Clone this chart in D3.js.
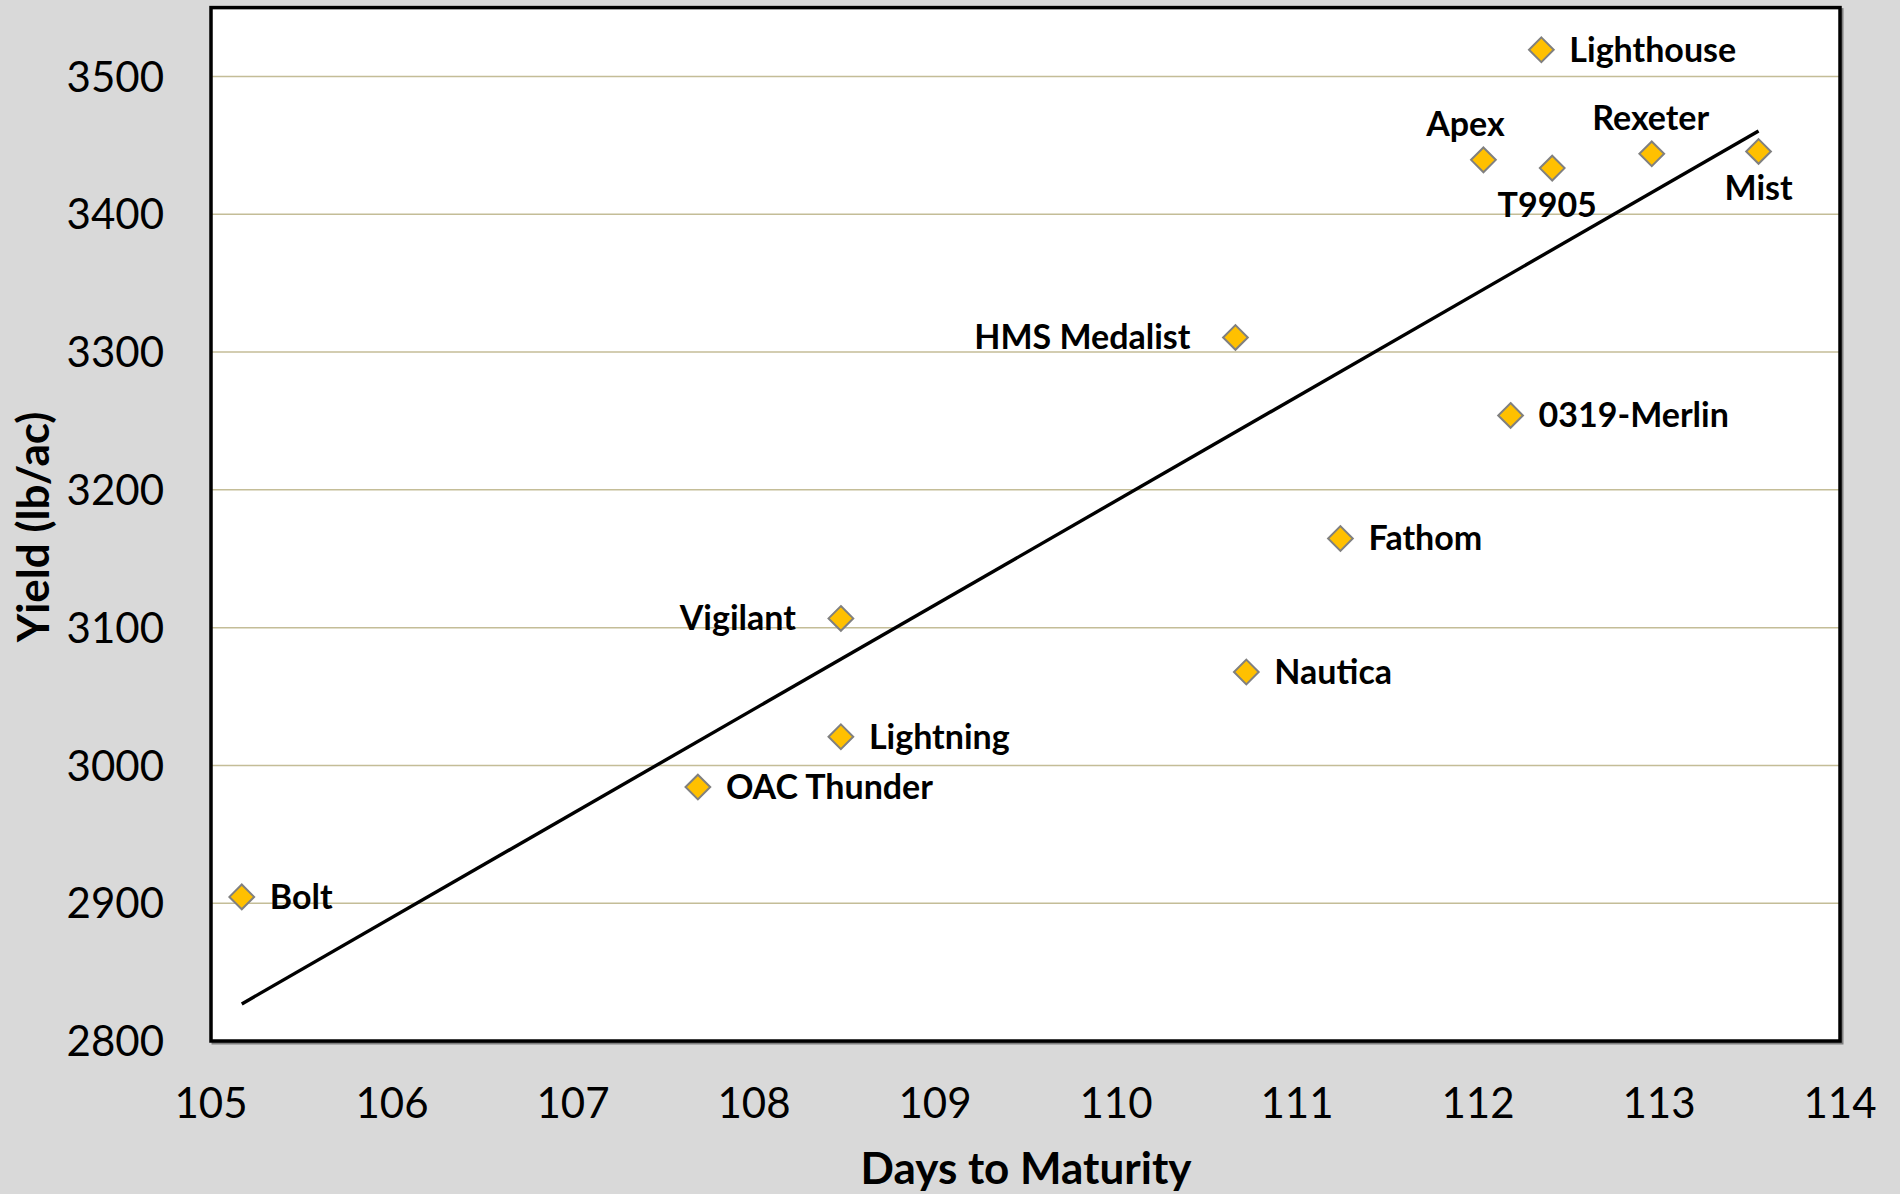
<!DOCTYPE html>
<html>
<head>
<meta charset="utf-8">
<script src="https://cdn.jsdelivr.net/npm/d3@7"></script>
<style>
  html, body { margin: 0; padding: 0; background: #D9D9D9; }
  svg { display: block; }
</style>
</head>
<body>
<svg id="chart" width="1900" height="1194"></svg>
<script>
// ---- data ----
const varieties = ["Bolt", "OAC Thunder", "Lightning", "Vigilant", "HMS Medalist", "Nautica",
                   "Fathom", "0319-Merlin", "Apex", "T9905", "Lighthouse", "Rexeter", "Mist"];
const daysToMaturity = [105.17, 107.69, 108.48, 108.48, 110.66, 110.72,
                        111.24, 112.18, 112.03, 112.41, 112.35, 112.96, 113.55];
const yieldLbAc = [2904.6, 2984.3, 3020.8, 3106.7, 3310.6, 3067.8,
                   3164.7, 3254.0, 3439.5, 3433.5, 3519.4, 3443.9, 3445.6];
const xTicks = [105, 106, 107, 108, 109, 110, 111, 112, 113, 114];
const yTicks = [2800, 2900, 3000, 3100, 3200, 3300, 3400, 3500];
// label placement (right / left / above / below)
const labelSide = ["right", "right", "right", "left", "left", "right",
                   "right", "right", "above", "below", "right", "above", "below"];

// ---- layout ----
const svg = d3.select("#chart");
const X0 = 211, X1 = 1840, Y0 = 1041, Y1 = 7.6;
const x = d3.scaleLinear().domain([105, 114]).range([X0, X1]);
const y = d3.scaleLinear().domain([2800, 3550]).range([Y0, Y1]);
const FONT = "Lato, 'Open Sans', 'DejaVu Sans', sans-serif";

// background
svg.append("rect").attr("width", 1900).attr("height", 1194).attr("fill", "#D9D9D9");

// plot area shadow + white fill
svg.append("rect").attr("x", X0 + 2).attr("y", Y1 + 2).attr("width", X1 - X0).attr("height", Y0 - Y1)
  .attr("fill", "none").attr("stroke", "#7f7f7f").attr("stroke-width", 3);
svg.append("rect").attr("x", X0).attr("y", Y1).attr("width", X1 - X0).attr("height", Y0 - Y1)
  .attr("fill", "#FFFFFF");

// gridlines
svg.append("g").selectAll("line").data(yTicks.filter(t => t > 2800)).join("line")
  .attr("x1", X0).attr("x2", X1)
  .attr("y1", d => y(d)).attr("y2", d => y(d))
  .attr("stroke", "#C4BD97").attr("stroke-width", 1.5);

// frame
svg.append("rect").attr("x", X0).attr("y", Y1).attr("width", X1 - X0).attr("height", Y0 - Y1)
  .attr("fill", "none").attr("stroke", "#000").attr("stroke-width", 3.5);

// y tick labels
svg.append("g").selectAll("text").data(yTicks).join("text")
  .attr("x", 164).attr("y", d => y(d))
  .attr("dy", "0.36em")
  .attr("text-anchor", "end")
  .attr("font-family", FONT).attr("font-size", 42).attr("fill", "#000")
  .text(d => d);

// x tick labels
svg.append("g").selectAll("text").data(xTicks).join("text")
  .attr("x", d => x(d)).attr("y", 1103)
  .attr("dy", "0.36em")
  .attr("text-anchor", "middle")
  .attr("font-family", FONT).attr("font-size", 42).attr("fill", "#000")
  .text(d => d);

// axis titles
svg.append("text")
  .attr("x", 1026).attr("y", 1184)
  .attr("text-anchor", "middle")
  .attr("font-family", FONT).attr("font-weight", "bold").attr("font-size", 44)
  .text("Days to Maturity");
svg.append("text")
  .attr("transform", "translate(49,527) rotate(-90)")
  .attr("text-anchor", "middle")
  .attr("font-family", FONT).attr("font-weight", "bold").attr("font-size", 44)
  .text("Yield (lb/ac)");

// linear regression trendline
const n = daysToMaturity.length;
const mx = d3.mean(daysToMaturity), my = d3.mean(yieldLbAc);
let sxy = 0, sxx = 0;
for (let i = 0; i < n; i++) {
  sxy += (daysToMaturity[i] - mx) * (yieldLbAc[i] - my);
  sxx += (daysToMaturity[i] - mx) ** 2;
}
const slope = sxy / sxx, intercept = my - slope * mx;
const [xmin, xmax] = d3.extent(daysToMaturity);
svg.append("path")
  .datum([xmin, xmax])
  .attr("d", d3.line().x(d => x(d)).y(d => y(intercept + slope * d)))
  .attr("stroke", "#000").attr("stroke-width", 3.4).attr("fill", "none");

// points
const pts = varieties.map((v, i) => ({ name: v, dx: daysToMaturity[i], yl: yieldLbAc[i], side: labelSide[i] }));
svg.append("g").selectAll("path").data(pts).join("path")
  .attr("transform", d => `translate(${x(d.dx)},${y(d.yl)})`)
  .attr("d", d3.symbol(d3.symbolDiamond2, 390))
  .attr("fill", "#FFC000").attr("stroke", "#808080").attr("stroke-width", 2);

// labels
svg.append("g").selectAll("text").data(pts).join("text")
  .attr("font-family", FONT).attr("font-weight", "bold").attr("font-size", 34).attr("fill", "#000")
  .text(d => d.name)
  .each(function (d) {
    const t = d3.select(this);
    const px = x(d.dx), py = y(d.yl);
    if (d.side === "right") {
      t.attr("x", px + 28).attr("y", py + 12).attr("text-anchor", "start");
    } else if (d.side === "left") {
      t.attr("x", px - 45).attr("y", py + 12).attr("text-anchor", "end");
    } else if (d.side === "above") {
      t.attr("x", px - (d.name === "Apex" ? 18 : 1)).attr("y", py - 24).attr("text-anchor", "middle");
    } else {
      t.attr("x", px - (d.name === "T9905" ? 5 : 0)).attr("y", py + 49).attr("text-anchor", "middle");
    }
  });
</script>
</body>
</html>
